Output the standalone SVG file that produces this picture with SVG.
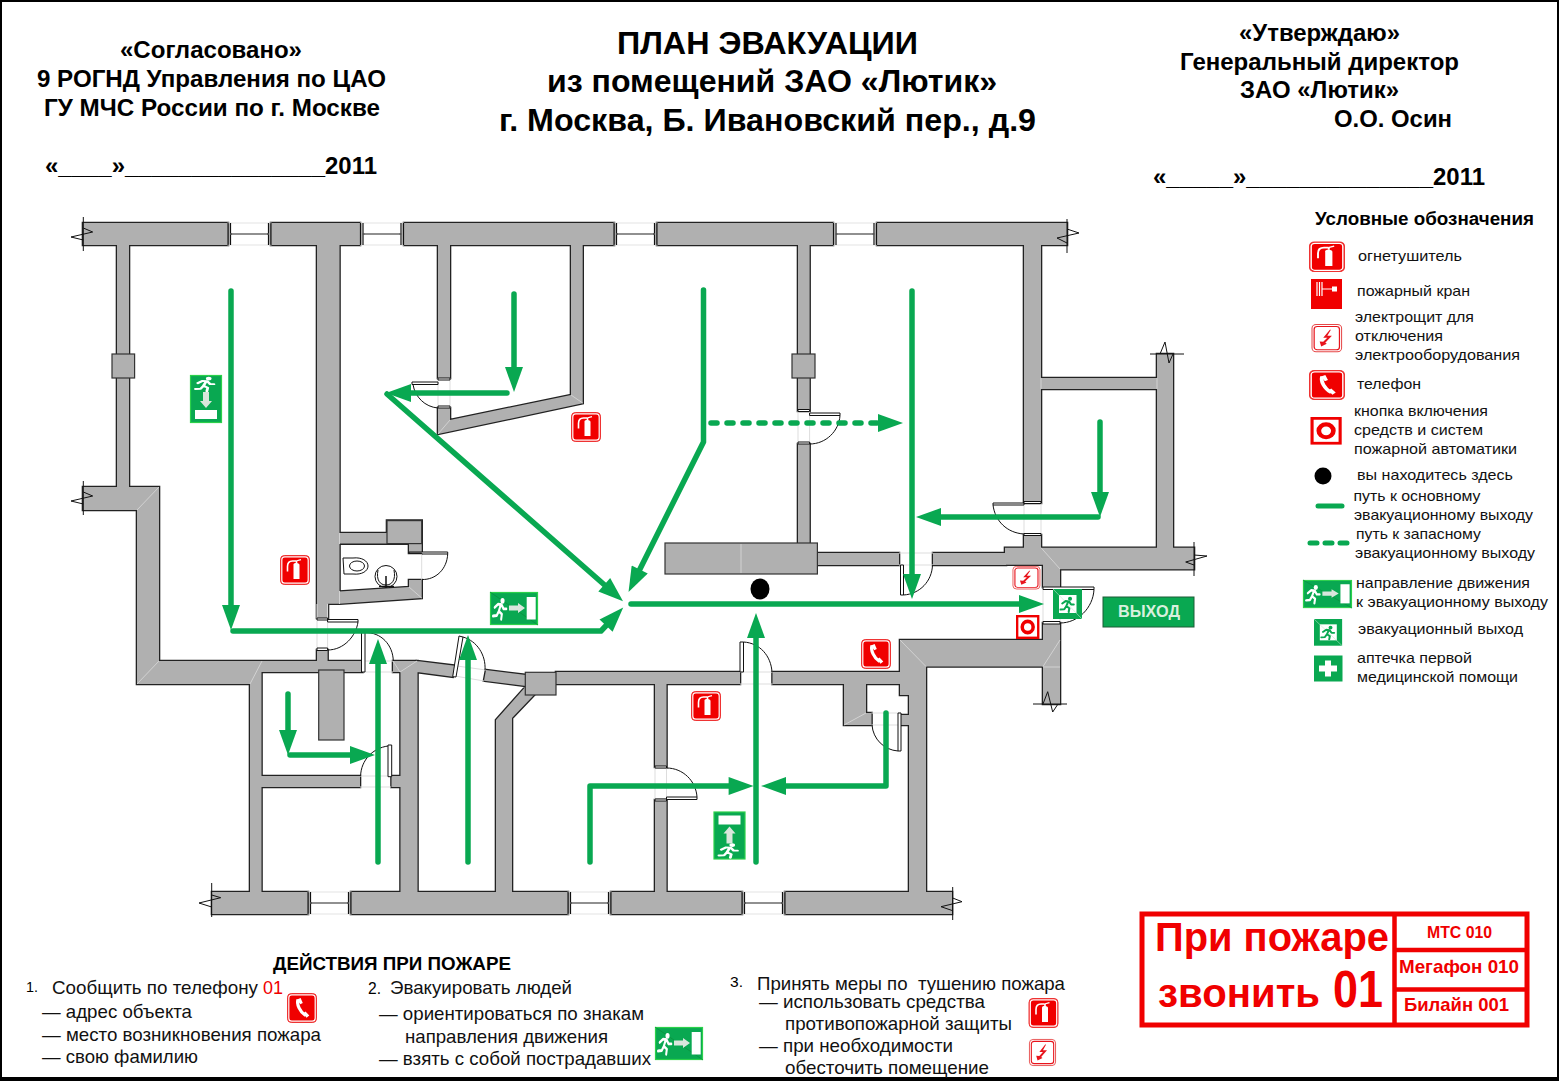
<svg xmlns="http://www.w3.org/2000/svg" xmlns:xlink="http://www.w3.org/1999/xlink" width="1559" height="1081" viewBox="0 0 1559 1081">
<style>
text{font-family:"Liberation Sans",Arial,sans-serif;fill:#000}
.b{font-weight:bold}
.h1{font-size:32px;font-weight:bold}
.h2{font-size:23px;font-weight:bold}
.lg{font-size:15px;fill:#111}
.bt{font-size:18.5px;fill:#111}
.red{fill:#f00000}
.door{fill:none;stroke:#111;stroke-width:1}
.leaf{fill:#fff;stroke:#111;stroke-width:1}
.gap{fill:none;stroke:#ddd;stroke-width:1}
.brk{fill:none;stroke:#111;stroke-width:1}
.path{fill:none;stroke:#09a851;stroke-width:5.5;stroke-linecap:round;stroke-linejoin:round}
.main{marker-end:url(#arrow)}
.win{fill:none;stroke:#222;stroke-width:1.2}
.winb{fill:none;stroke:#e3e3e3;stroke-width:1}
.jamb{fill:none;stroke:#111;stroke-width:1.2}
.seam{stroke:#d2d2d2;stroke-width:1;fill:none}
.pil{fill:#b0b0b0;stroke:#333;stroke-width:1.2}
</style>
<defs>
<marker id="arrow" markerUnits="userSpaceOnUse" markerWidth="27" markerHeight="18" viewBox="0 0 25 18" refX="5" refY="9" orient="auto"><path d="M0,0L25,9L0,18Z" fill="#09a851"/></marker>
<path id="wallshape" d="M83,223H228V245H83Z M271,223H360V245H271Z M404,223H614V245H404Z M657,223H833V245H657Z M877,223H1067V245H877Z
M117,244H129V488H117Z
M83,487H159V661H317V650H327.6V661H362.5V672H261.5V684H137V510H83Z
M250,672H261.5V892H250Z M261,776H360V787H261Z M391.5,776H400.5V787H391.5Z
M393,661H417.5V892H400.5V672H393Z
M417,661L455,665.7L452.7,676.7L417,672Z M486,670L526,675L526,686L484,680.7Z
M525.3,687L534,695L512,718V892H496V720Z
M556,672H740V684H556Z M772.5,672H900V684H772.5Z
M655,684H666.5V767H655Z M655,800H666.5V892H655Z
M900,640H1043V623H1060V704H1043V666.5H926V892H909V695H900Z
M844,684H866V713H871.5V725H844Z M901,715H909V725H901Z
M212,892H308V914H212Z M351,892H568V914H351Z M611,892H742V914H611Z M785,892H952V914H785Z
M317,244H339.5V533H387V520.6H421.7V553H409V543.6H339.5V591.6L409,587V580H421.7V598L339.5,603.7H328V618H317Z
M438,244H450V378H438Z M438,408H450V420L571,395V244H582.7V403.3L438,434Z
M798,244H809.6V411H798Z M798,444H809.6V544H798Z
M817,553H899V565H817Z M933,553H1006V565H933Z
M1005,547.7H1194V569.3H1060V587H1043V564.7H1005Z
M1024,244H1041V503H1024Z M1024,535H1041V548H1024Z M1157,354H1173V548H1157Z M1041,378H1157V389H1041Z"/>
<g id="win43"><rect class="winb" x="0" y="0" width="43" height="22"/><path class="jamb" d="M0,0V22M2.5,0V22M40.5,0V22M43,0V22"/><path class="win" d="M2.5,11H40.5"/><circle cx="3" cy="11" r="1" fill="#555"/><circle cx="40" cy="11" r="1" fill="#555"/></g>
<g id="man" fill="none" stroke="currentColor" stroke-width="3" stroke-linecap="round" stroke-linejoin="round"><circle cx="15.5" cy="4" r="3" fill="currentColor" stroke="none"/><path d="M13,8L10,15M4,11L9,7.5L14,8L17,12.5L21,12.5M10,15L14.5,18L13.5,23.5M10,15L7,19.5L1.5,20"/></g>
<g id="s-base"><rect x="0.5" y="0.5" width="29" height="29" rx="4" fill="#f00000" stroke="#e33" stroke-width="1"/><rect x="1.8" y="1.8" width="26.4" height="26.4" rx="3" fill="#f00000" stroke="#fff" stroke-width="1.2"/></g>
<g id="s-ext"><use xlink:href="#s-base"/><path d="M13.5,9.5c0,-1 1,-1.500 2.500,-1.500s3.500,.5 3.500,2v14h-6Z" fill="#fff"/><path d="M16.500,8V6M16,6h-3.500c-3.500,0-5,2-5,5.500v5" fill="none" stroke="#fff" stroke-width="1.600"/><path d="M16,6l5,-1.400" stroke="#fff" stroke-width="1.200"/></g>
<g id="s-tel"><use xlink:href="#s-base"/><path d="M11,6.5c-1.7,4.5,2,12.5,7.5,16" fill="none" stroke="#fff" stroke-width="3.2"/><path d="M10,6.5l3.6,-1.6l2.2,5l-2.6,1.3ZM16.2,20.5l2.3,-2l3.8,4l-2.8,2.2Z" fill="#fff"/></g>
<g id="s-el"><rect x="0.5" y="0.5" width="29" height="29" rx="4" fill="#fff" stroke="#e64848" stroke-width="1"/><rect x="2.6" y="2.6" width="24.8" height="24.8" rx="3" fill="#fff" stroke="#e8141c" stroke-width="1.2"/><path d="M18,6L11.5,14.5H15.5L11.5,19L8,18.5L9.5,24L15,21L13.5,20L20,12.5H15.5L19,6Z" fill="#e8141c"/></g>
<g id="s-btn"><rect x="1.5" y="1.5" width="27" height="27" fill="#fff" stroke="#f00000" stroke-width="3"/><circle cx="15" cy="15" r="7" fill="none" stroke="#f00000" stroke-width="4.5"/></g>
<g id="s-dir"><rect x="0.5" y="0.5" width="47" height="32" fill="#09a851" stroke="#2bd14a" stroke-width="1.2"/><path d="M0,0L48,33" stroke="#0a8f3a" stroke-width="0.7"/><use xlink:href="#man" transform="translate(2,5) scale(.68,.95)" color="#fff"/><path d="M19,13.5H28V11L35,16L28,21V18.5H19Z" fill="#d9e6dc"/><rect x="36.7" y="5" width="9" height="22.5" fill="#fff"/></g>
<g id="s-exit"><rect width="29" height="30" fill="#09a851"/><rect x="6" y="6" width="17.5" height="18" fill="#fff"/><path d="M0,0L29,30" stroke="#bfe8cd" stroke-width="0.6"/><use xlink:href="#man" transform="translate(6.500,7) scale(.68)" color="#09a851"/></g>
</defs>

<rect width="1559" height="1081" fill="#fff"/>
<path d="M1,1H1558V1079H1V1Z" fill="none" stroke="#000" stroke-width="2"/>
<rect x="0" y="1077" width="1559" height="4" fill="#000"/>
<rect x="1557" y="0" width="2" height="1081" fill="#000"/>

<g id="header">
<text class="h1" x="617" y="54" textLength="301" lengthAdjust="spacingAndGlyphs">ПЛАН ЭВАКУАЦИИ</text>
<text class="h1" x="547" y="92" textLength="450" lengthAdjust="spacingAndGlyphs">из помещений ЗАО «Лютик»</text>
<text class="h1" x="499" y="131" textLength="537" lengthAdjust="spacingAndGlyphs">г. Москва, Б. Ивановский пер., д.9</text>
<text class="h2" x="120" y="58" textLength="182" lengthAdjust="spacingAndGlyphs">«Согласовано»</text>
<text class="h2" x="37" y="87" textLength="349" lengthAdjust="spacingAndGlyphs">9 РОГНД Управления по ЦАО</text>
<text class="h2" x="44" y="116" textLength="336" lengthAdjust="spacingAndGlyphs">ГУ МЧС России по г. Москве</text>
<text class="h2" x="45" y="174" textLength="332" lengthAdjust="spacingAndGlyphs">«____»_______________2011</text>
<text class="h2" x="1239" y="41" textLength="161" lengthAdjust="spacingAndGlyphs">«Утверждаю»</text>
<text class="h2" x="1180" y="70" textLength="279" lengthAdjust="spacingAndGlyphs">Генеральный директор</text>
<text class="h2" x="1240" y="98" textLength="159" lengthAdjust="spacingAndGlyphs">ЗАО «Лютик»</text>
<text class="h2" x="1334" y="127" textLength="118" lengthAdjust="spacingAndGlyphs">О.О. Осин</text>
<text class="h2" x="1153" y="185" textLength="332" lengthAdjust="spacingAndGlyphs">«_____»______________2011</text>
</g>

<g id="walls">
<use xlink:href="#wallshape" fill="#b0b0b0" stroke="#222" stroke-width="2.600"/>
<use xlink:href="#wallshape" fill="#b0b0b0"/>
<path class="seam" d="M159,487L137,510M159,661L137,684M262,661L250,684M393,661L400,672M417,661L400,672M339.5,533V544M339.5,591V604M409,587L421.7,598M438,434L450,420M571,395L582.7,403M1041,378V389M1157,378V389M1041,547.7L1060,569M900,640L926,666.5M1043,666.5L1060,640M844,725L866,713M1043,667H1060"/>
<rect class="pil" x="112" y="354" width="22.600" height="24"/>
<rect class="pil" x="792" y="354" width="23" height="24"/>
<rect class="pil" x="387" y="520.600" width="34.700" height="23"/>
<rect class="pil" x="525.300" y="672.300" width="30.700" height="22.700"/>
<rect class="pil" x="318.700" y="670" width="25.300" height="70"/>
<rect class="pil" x="665" y="543" width="152.400" height="31"/>
<path class="seam" d="M741,544V573"/>
</g>

<g id="windows">
<use xlink:href="#win43" x="228" y="223"/>
<use xlink:href="#win43" x="360.500" y="223"/>
<use xlink:href="#win43" x="614" y="223"/>
<use xlink:href="#win43" x="833.500" y="223"/>
<use xlink:href="#win43" x="308" y="892"/>
<use xlink:href="#win43" x="568" y="892"/>
<use xlink:href="#win43" x="742" y="892"/>
</g>

<g id="breaks">
<path class="brk" d="M83.300,217V251M83.300,228L92.700,232L71,237L83.300,240"/>
<path class="brk" d="M83.300,481V515M83.300,492L92.700,496L71,501L83.300,504"/>
<path class="brk" d="M1067,219V253M1067,229L1079,233L1057,238L1067,243"/>
<path class="brk" d="M1194,542V576M1194,555L1207,556L1185.700,562L1194,565"/>
<path class="brk" d="M1150,354H1184M1160,354L1165,342L1169,363L1173,354"/>
<path class="brk" d="M1033,704H1067M1043,704L1047.700,691.700L1052.700,712L1058,704"/>
<path class="brk" d="M211.700,883V917M211.700,895L220.700,897.700L199,903L211.700,907"/>
<path class="brk" d="M952.700,887V920M952.700,898L962,901.700L941,906.700L952.700,910.700"/>
</g>

<g id="doors">
<path class="gap" d="M317,604V650M327.600,604V650M421.700,553V580M363,661H393M393,672H363M455,676L484,681M457,666L486,670M360,776H391M360,787H391M438,378V408M450,378V408M798,411V444M809.600,411V444M1024,503V535M1041,503V535M899,553H933M899,565H933M1043,587V623M1060,587V623M740,672H772.500M740,684H772.500M655,767V800M666.500,767V800M871.500,713H901M871.500,725H901"/>
<path class="leaf" d="M317,618H327.600V620H317Z M327.600,619.500H358V622H327.600Z M317,648H327.600V650.500H317Z"/>
<path class="door" d="M358,622C356,636 344,650 327.600,650"/>
<path class="leaf" d="M409,552H447.700V554H421.700V553H409Z"/>
<path class="door" d="M447.700,554C447,569 436,580 421.700,579.500"/>
<path class="leaf" d="M361.500,632.600H365V672H361.500Z"/>
<path class="door" d="M365,632.600C381,632 393,645 393.300,661"/>
<path class="leaf" d="M459,636L463,637L456,677L452.700,676.700Z"/>
<path class="door" d="M463,637C477,641 486,655 485,670"/>
<path class="leaf" d="M388,745H391.700V776.700H388Z"/>
<path class="door" d="M388,746C373,748 361,760 360.600,776"/>
<path class="leaf" d="M412,382H438V384.500H412Z M438,378H450V380H438Z M438,406H450V408H438Z"/>
<path class="door" d="M413,384.500C415,397 425,407 438,408"/>
<path class="leaf" d="M809.600,413H840V415.500H809.600Z M798,409.500H809.600V411.500H798Z M798,442H809.600V444H798Z"/>
<path class="door" d="M840,415.500C839,431 826,444 809.600,444"/>
<path class="leaf" d="M993,503H1024V505H993Z M1024,501.500H1041V503.500H1024Z M1024,533.500H1041V535.500H1024Z"/>
<path class="door" d="M993,505C995,521 1007,533 1024,534"/>
<path class="leaf" d="M900.500,565H903.500V595H900.500Z"/>
<path class="door" d="M903.500,595C920,594 932,581 932.500,565"/>
<path class="leaf" d="M1043,587H1094V589.500H1043Z M1043,621.500H1060V624H1043Z"/>
<path class="door" d="M1094,589.500C1093,608 1078,623 1060,623"/>
<path class="leaf" d="M740,642H743.500V672H740Z"/>
<path class="door" d="M743.500,642C760,643 771,656 772,672"/>
<path class="leaf" d="M655,766H666.500V768H655Z M655,799H666.500V801H655Z M666.500,797H697V799.500H666.500Z"/>
<path class="door" d="M666.500,768C683,768 696,781 697,797"/>
<path class="leaf" d="M898,713H901V751H898Z"/>
<path class="door" d="M898,751C884,750 873,739 872,725"/>
</g>

<g id="fixtures" fill="#fff" stroke="#111" stroke-width="1">
<path d="M343,558H353C362,557 368,561 368,566C368,571 362,575 353,574H344Z"/><ellipse cx="357" cy="566" rx="7.500" ry="5"/>
<circle cx="386" cy="576.500" r="11"/><path d="M378,570C376,580 380,585 386,585C392,585 396,580 394,570"/><path d="M386,576V586M379,586.500H394" stroke-width="1.500"/>
</g>

<g id="connectors">
<path class="path main" d="M231,291V610"/>
<path class="path main" d="M233,631H601L609.500,622"/>
<path class="path main" d="M378,862V659"/>
<path class="path main" d="M468,862V655"/>
<path class="path main" d="M288,694V735"/>
<path class="path main" d="M290,755H355"/>
<path class="path main" d="M514,294V372"/>
<path class="path main" d="M507,393H406"/>
<path class="path main" d="M387,394L608,588"/>
<path class="path main" d="M703.500,290V442L637.500,574"/>
<path class="path main" d="M711,423H883" stroke-dasharray="6 10"/>
<path class="path main" d="M912,291V579"/>
<path class="path main" d="M1100,422V497"/>
<path class="path main" d="M1098,517H936"/>
<path class="path main" d="M631,604H1024"/>
<path class="path main" d="M756,862V633"/>
<path class="path main" d="M590,862V786H733.600"/>
<path class="path main" d="M886,713V786H781"/>
</g>

<g id="you-here"><ellipse cx="760" cy="589" rx="9.500" ry="10.500" fill="#000"/></g>

<g id="plan-signs">
<use id="ext-1" xlink:href="#s-ext" transform="translate(571,412)"/>
<use id="ext-2" xlink:href="#s-ext" transform="translate(280,555)"/>
<use id="ext-3" xlink:href="#s-ext" transform="translate(691,691)"/>
<use id="tel-1" xlink:href="#s-tel" transform="translate(861,639)"/>
<use id="el-1" xlink:href="#s-el" transform="translate(1012.500,566) scale(.93,.78)"/>
<use id="btn-1" xlink:href="#s-btn" transform="translate(1016,615) scale(.78,.8)"/>
<use id="exit-1" xlink:href="#s-exit" transform="translate(1053,589)"/>
<use id="dir-1" xlink:href="#s-dir" transform="translate(490,592)"/>
<g id="dir-down" transform="translate(190,375)"><rect x="0.500" y="0.500" width="31" height="47" fill="#09a851" stroke="#2bd14a" stroke-width="1.200"/><use xlink:href="#man" transform="translate(4,1) scale(.95,.65)" color="#fff"/><path d="M13,17H19V26H22L16,33L10,26H13Z" fill="#d9e6dc"/><rect x="5" y="35" width="22" height="9" fill="#fff"/></g>
<g id="dir-up" transform="translate(713.500,811.500)"><rect x="0.500" y="0.500" width="31" height="47" fill="#09a851" stroke="#2bd14a" stroke-width="1.200"/><rect x="5" y="4" width="22" height="9" fill="#fff"/><path d="M13,32H19V22H22L16,15L10,22H13Z" fill="#d9e6dc"/><use xlink:href="#man" transform="translate(4,31) scale(.95,.65)" color="#fff"/></g>
<g id="exit-label"><rect x="1103" y="597" width="91" height="30" fill="#09a851" stroke="#1c5c36" stroke-width="1"/><text x="1118" y="617" font-size="17" font-weight="bold" style="fill:#d8f0de" textLength="62" lengthAdjust="spacingAndGlyphs">ВЫХОД</text></g>
</g>

<g id="legend">
<text class="b" x="1315" y="224.500" font-size="18" textLength="219" lengthAdjust="spacingAndGlyphs">Условные обозначения</text>
<use xlink:href="#s-ext" transform="translate(1309,241.500) scale(1.2,1.02)"/>
<text class="lg" x="1358" y="261" textLength="104" lengthAdjust="spacingAndGlyphs">огнетушитель</text>
<g id="hydrant" transform="translate(1311,279)"><rect width="31" height="30" fill="#f00000"/><path d="M6,3V17M8.500,3V17M11,3V17M11,10H22" stroke="#fff" stroke-width="1.200" fill="none"/><rect x="21" y="7.500" width="5" height="5" fill="#fff"/></g>
<text class="lg" x="1357" y="296" textLength="113" lengthAdjust="spacingAndGlyphs">пожарный кран</text>
<use xlink:href="#s-el" transform="translate(1311.500,324) scale(1.02,.94)"/>
<text class="lg" x="1355" y="322" textLength="119" lengthAdjust="spacingAndGlyphs">электрощит для</text>
<text class="lg" x="1355" y="341" textLength="88" lengthAdjust="spacingAndGlyphs">отключения</text>
<text class="lg" x="1355" y="360" textLength="165" lengthAdjust="spacingAndGlyphs">электрооборудования</text>
<use xlink:href="#s-tel" transform="translate(1309,370) scale(1.2,1)"/>
<text class="lg" x="1357" y="389" textLength="64" lengthAdjust="spacingAndGlyphs">телефон</text>
<use xlink:href="#s-btn" transform="translate(1310.500,417) scale(1.04,.92)"/>
<text class="lg" x="1354" y="416" textLength="134" lengthAdjust="spacingAndGlyphs">кнопка включения</text>
<text class="lg" x="1354" y="435" textLength="129" lengthAdjust="spacingAndGlyphs">средств и систем</text>
<text class="lg" x="1354" y="454" textLength="163" lengthAdjust="spacingAndGlyphs">пожарной автоматики</text>
<circle cx="1323" cy="476" r="8.500" fill="#000"/>
<text class="lg" x="1357" y="480" textLength="156" lengthAdjust="spacingAndGlyphs">вы находитесь здесь</text>
<path d="M1318,506H1342" stroke="#09a851" stroke-width="5" stroke-linecap="round"/>
<text class="lg" x="1353.500" y="501" textLength="127" lengthAdjust="spacingAndGlyphs">путь к основному</text>
<text class="lg" x="1354" y="520" textLength="179" lengthAdjust="spacingAndGlyphs">эвакуационному выходу</text>
<path d="M1310,543H1348" stroke="#09a851" stroke-width="5" stroke-linecap="round" stroke-dasharray="7 8"/>
<text class="lg" x="1356" y="539" textLength="125" lengthAdjust="spacingAndGlyphs">путь к запасному</text>
<text class="lg" x="1355" y="558" textLength="180" lengthAdjust="spacingAndGlyphs">эвакуационному выходу</text>
<use xlink:href="#s-dir" transform="translate(1303,580) scale(1.02,.85)"/>
<text class="lg" x="1356" y="587.500" textLength="174" lengthAdjust="spacingAndGlyphs">направление движения</text>
<text class="lg" x="1356" y="607" textLength="192" lengthAdjust="spacingAndGlyphs">к эвакуационному выходу</text>
<use xlink:href="#s-exit" transform="translate(1314,619) scale(.97,.89)"/>
<text class="lg" x="1358" y="634" textLength="165" lengthAdjust="spacingAndGlyphs">эвакуационный выход</text>
<g id="aid"><rect x="1314" y="655.500" width="28.500" height="26" fill="#09a851"/><path d="M1325,660.500h6v5h6v6h-6v5h-6v-5h-6v-6h6Z" fill="#fff"/></g>
<text class="lg" x="1357" y="663" textLength="115" lengthAdjust="spacingAndGlyphs">аптечка первой</text>
<text class="lg" x="1357" y="681.500" textLength="161" lengthAdjust="spacingAndGlyphs">медицинской помощи</text>
</g>

<g id="actions">
<text class="b" x="273" y="969.500" font-size="18.500" textLength="238" lengthAdjust="spacingAndGlyphs">ДЕЙСТВИЯ ПРИ ПОЖАРЕ</text>
<text x="26" y="992" font-size="14" textLength="12" lengthAdjust="spacingAndGlyphs">1.</text>
<text class="bt" x="52" y="994" textLength="206" lengthAdjust="spacingAndGlyphs">Сообщить по телефону</text>
<text class="bt red" x="263" y="994" textLength="20" lengthAdjust="spacingAndGlyphs">01</text>
<text class="bt" x="42" y="1018" textLength="150" lengthAdjust="spacingAndGlyphs">— адрес объекта</text>
<text class="bt" x="42" y="1041" textLength="279" lengthAdjust="spacingAndGlyphs">— место возникновения пожара</text>
<text class="bt" x="42" y="1063" textLength="156" lengthAdjust="spacingAndGlyphs">— свою фамилию</text>
<use xlink:href="#s-tel" transform="translate(287,993)"/>
<text x="368" y="994" font-size="16" textLength="13" lengthAdjust="spacingAndGlyphs">2.</text>
<text class="bt" x="390" y="994" textLength="182" lengthAdjust="spacingAndGlyphs">Эвакуировать людей</text>
<text class="bt" x="379" y="1020" textLength="265" lengthAdjust="spacingAndGlyphs">— ориентироваться по знакам</text>
<text class="bt" x="405" y="1043" textLength="203" lengthAdjust="spacingAndGlyphs">направления движения</text>
<text class="bt" x="379" y="1065" textLength="272" lengthAdjust="spacingAndGlyphs">— взять с собой пострадавших</text>
<use xlink:href="#s-dir" transform="translate(655,1027)"/>
<text x="730" y="987" font-size="14" textLength="13" lengthAdjust="spacingAndGlyphs">3.</text>
<text class="bt" x="757" y="990" textLength="308" lengthAdjust="spacingAndGlyphs" xml:space="preserve">Принять меры по  тушению пожара</text>
<text class="bt" x="759" y="1008" textLength="226" lengthAdjust="spacingAndGlyphs">— использовать средства</text>
<text class="bt" x="785" y="1030" textLength="227" lengthAdjust="spacingAndGlyphs">противопожарной защиты</text>
<text class="bt" x="759" y="1052" textLength="194" lengthAdjust="spacingAndGlyphs">— при необходимости</text>
<text class="bt" x="785" y="1074" textLength="204" lengthAdjust="spacingAndGlyphs">обесточить помещение</text>
<use xlink:href="#s-ext" transform="translate(1028.500,998)"/>
<use xlink:href="#s-el" transform="translate(1029,1039) scale(.9)"/>
</g>

<g id="fire-box">
<rect x="1142" y="914" width="385" height="111" fill="#fff" stroke="#f00000" stroke-width="5"/>
<path d="M1394.500,914V1025M1394.500,950H1527M1394.500,989.500H1527" stroke="#f00000" stroke-width="4.500" fill="none"/>
<text class="b red" x="1155" y="951" font-size="41" textLength="234" lengthAdjust="spacingAndGlyphs">При пожаре</text>
<text class="b red" x="1158" y="1007" font-size="41" textLength="162" lengthAdjust="spacingAndGlyphs">звонить</text>
<text class="b red" x="1333" y="1007" font-size="51" textLength="50" lengthAdjust="spacingAndGlyphs">01</text>
<text class="b red" x="1427" y="938" font-size="16" textLength="65" lengthAdjust="spacingAndGlyphs">МТС 010</text>
<text class="b red" x="1399" y="973" font-size="18.500" textLength="120" lengthAdjust="spacingAndGlyphs">Мегафон 010</text>
<text class="b red" x="1404" y="1011" font-size="18.500" textLength="105" lengthAdjust="spacingAndGlyphs">Билайн 001</text>
</g>
</svg>
